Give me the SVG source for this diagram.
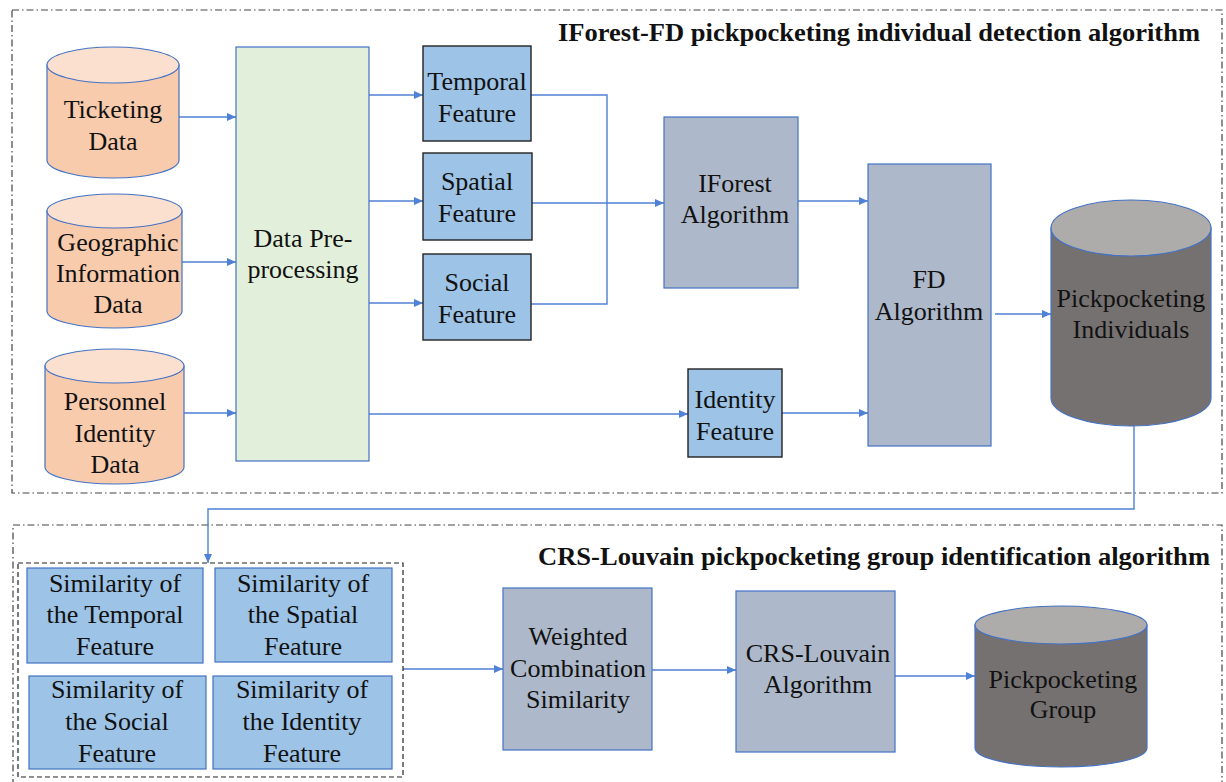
<svg xmlns="http://www.w3.org/2000/svg" width="1226" height="782" viewBox="0 0 1226 782">
<style>
  text { font-family: "Liberation Serif", "Times New Roman", serif; font-size: 26px; fill: #111; text-anchor: middle; }
  .title { font-weight: bold; font-size: 25px; text-anchor: start; }
  .frame { fill: none; stroke: #444; stroke-width: 1.2; stroke-dasharray: 7 3 1.5 3; }
  .dash { fill: none; stroke: #222; stroke-width: 1.2; stroke-dasharray: 5 3; }
  .cylO { fill: #F8CBAD; stroke: #4472C4; stroke-width: 1.2; }
  .cylOt { fill: #FBE0D0; stroke: #4472C4; stroke-width: 1.2; }
  .cylG { fill: #767171; stroke: #4472C4; stroke-width: 1.2; }
  .cylGt { fill: #AEABAB; stroke: #4472C4; stroke-width: 1.2; }
  .green { fill: #E2EFDA; stroke: #4472C4; stroke-width: 1.2; }
  .feat { fill: #9DC3E6; stroke: #222; stroke-width: 1.4; }
  .sim { fill: #9DC3E6; stroke: #4472C4; stroke-width: 1.2; }
  .algo { fill: #ADB9CA; stroke: #4472C4; stroke-width: 1.2; }
  .conn { fill: none; stroke: #4F81D6; stroke-width: 1.4; }
  .arr { marker-end: url(#ah); }
</style>
<defs>
  <marker id="ah" markerWidth="10" markerHeight="8" refX="9" refY="4" orient="auto" markerUnits="userSpaceOnUse">
    <path d="M0,0 L9,4 L0,8 Z" fill="#4F81D6"/>
  </marker>
</defs>

<g id="frames">
  <rect class="frame" x="12" y="10" width="1210" height="483"/>
  <rect class="frame" x="13" y="525" width="1209" height="270"/>
  <text class="title" x="558" y="41" textLength="642" lengthAdjust="spacingAndGlyphs">IForest-FD pickpocketing individual detection algorithm</text>
  <text class="title" x="538" y="565" textLength="672" lengthAdjust="spacingAndGlyphs">CRS-Louvain pickpocketing group identification algorithm</text>
</g>

<g id="connectors">
  <path class="conn arr" d="M179 117 H236"/>
  <path class="conn arr" d="M182 262 H236"/>
  <path class="conn arr" d="M184 413 H236"/>
  <path class="conn arr" d="M369 95 H423"/>
  <path class="conn arr" d="M369 201 H423"/>
  <path class="conn arr" d="M369 303 H423"/>
  <path class="conn arr" d="M369 414 H688"/>
  <path class="conn" d="M531 95 H607 V304 H531"/>
  <path class="conn arr" d="M532 203 H664"/>
  <path class="conn arr" d="M798 201 H868"/>
  <path class="conn arr" d="M782 413 H868"/>
  <path class="conn arr" d="M995 314 H1051"/>
  <path class="conn arr" d="M1134 426 V509 H208 V563"/>
  <path class="conn arr" d="M403 669 H503"/>
  <path class="conn arr" d="M652 670 H736"/>
  <path class="conn arr" d="M895 676 H975"/>
</g>

<g id="ticketing">
  <path class="cylO" d="M47 65 V160 A66 18 0 0 0 179 160 V65 Z"/>
  <ellipse class="cylOt" cx="113" cy="65" rx="66" ry="18"/>
  <text x="113" y="118">Ticketing</text>
  <text x="113" y="150">Data</text>
</g>

<g id="geographic">
  <path class="cylO" d="M47 211 V311 A67.5 17 0 0 0 182 311 V211 Z"/>
  <ellipse class="cylOt" cx="114.5" cy="211" rx="67.5" ry="17"/>
  <text x="118" y="251">Geographic</text>
  <text x="118" y="282">Information</text>
  <text x="118" y="313">Data</text>
</g>

<g id="personnel">
  <path class="cylO" d="M45 366 V467 A69.5 17 0 0 0 184 467 V366 Z"/>
  <ellipse class="cylOt" cx="114.5" cy="366" rx="69.5" ry="17"/>
  <text x="115" y="410">Personnel</text>
  <text x="115" y="442">Identity</text>
  <text x="115" y="473">Data</text>
</g>

<g id="preprocessing">
  <rect class="green" x="236" y="47" width="133" height="414"/>
  <text x="303" y="247">Data Pre-</text>
  <text x="303" y="278">processing</text>
</g>

<g id="temporal">
  <rect class="feat" x="423" y="46" width="108" height="95"/>
  <text x="477" y="90">Temporal</text>
  <text x="477" y="122">Feature</text>
</g>

<g id="spatial">
  <rect class="feat" x="423" y="153" width="109" height="87"/>
  <text x="477" y="190">Spatial</text>
  <text x="477" y="222">Feature</text>
</g>

<g id="social">
  <rect class="feat" x="423" y="254" width="108" height="86"/>
  <text x="477" y="291">Social</text>
  <text x="477" y="323">Feature</text>
</g>

<g id="identity">
  <rect class="feat" x="688" y="369" width="94" height="88"/>
  <text x="735" y="408">Identity</text>
  <text x="735" y="440">Feature</text>
</g>

<g id="iforest">
  <rect class="algo" x="664" y="117" width="134" height="171"/>
  <text x="735" y="192">IForest</text>
  <text x="735" y="223">Algorithm</text>
</g>

<g id="fd">
  <rect class="algo" x="868" y="164" width="123" height="282"/>
  <text x="929" y="288">FD</text>
  <text x="929" y="320">Algorithm</text>
</g>

<g id="individuals">
  <path class="cylG" d="M1051 228 V398 A80 28 0 0 0 1211 398 V228 Z"/>
  <ellipse class="cylGt" cx="1131" cy="228" rx="80" ry="28"/>
  <text x="1131" y="307">Pickpocketing</text>
  <text x="1131" y="338">Individuals</text>
</g>

<g id="similarity-group">
  <rect class="dash" x="18" y="563" width="385" height="214"/>
</g>

<g id="sim-temporal">
  <rect class="sim" x="27" y="568" width="176" height="95"/>
  <text x="115" y="592">Similarity of</text>
  <text x="115" y="623">the Temporal</text>
  <text x="115" y="655">Feature</text>
</g>

<g id="sim-spatial">
  <rect class="sim" x="215" y="568" width="177" height="94"/>
  <text x="303" y="592">Similarity of</text>
  <text x="303" y="623">the Spatial</text>
  <text x="303" y="655">Feature</text>
</g>

<g id="sim-social">
  <rect class="sim" x="29" y="676" width="177" height="93"/>
  <text x="117" y="698">Similarity of</text>
  <text x="117" y="730">the Social</text>
  <text x="117" y="762">Feature</text>
</g>

<g id="sim-identity">
  <rect class="sim" x="213" y="676" width="179" height="93"/>
  <text x="302" y="698">Similarity of</text>
  <text x="302" y="730">the Identity</text>
  <text x="302" y="762">Feature</text>
</g>

<g id="weighted">
  <rect class="algo" x="503" y="588" width="149" height="162"/>
  <text x="578" y="645">Weighted</text>
  <text x="578" y="677">Combination</text>
  <text x="578" y="708">Similarity</text>
</g>

<g id="crs-louvain">
  <rect class="algo" x="736" y="591" width="159" height="161"/>
  <text x="818" y="662">CRS-Louvain</text>
  <text x="818" y="693">Algorithm</text>
</g>

<g id="group">
  <path class="cylG" d="M975 625 V748 A86 19 0 0 0 1147 748 V625 Z"/>
  <ellipse class="cylGt" cx="1061" cy="625" rx="86" ry="19"/>
  <text x="1063" y="688">Pickpocketing</text>
  <text x="1063" y="718">Group</text>
</g>
</svg>
